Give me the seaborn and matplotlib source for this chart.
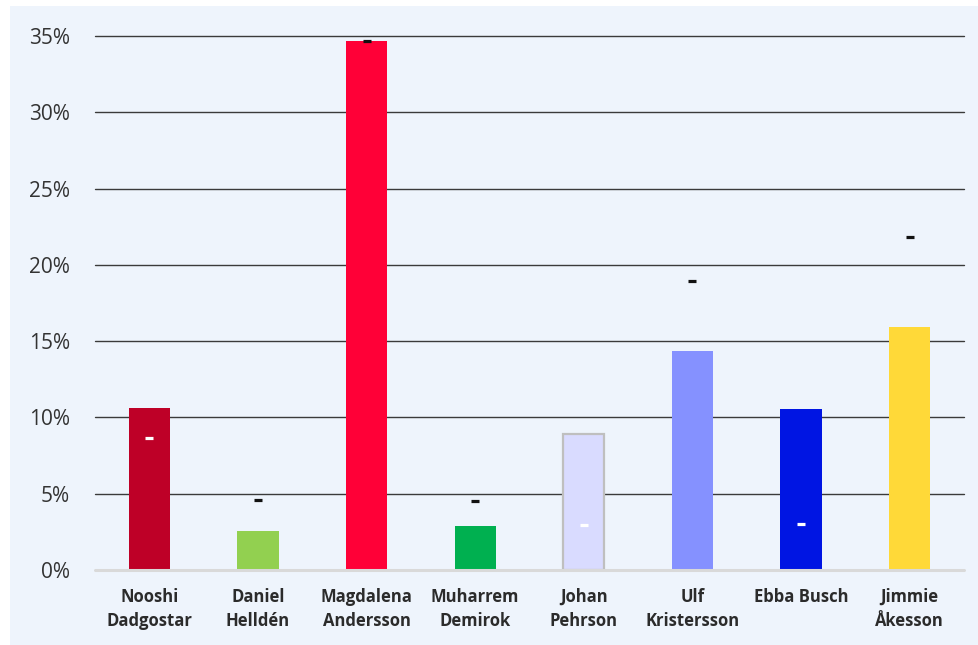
import numpy as np
import pandas as pd
import matplotlib
matplotlib.use("Agg")
import matplotlib.pyplot as plt
from matplotlib.patches import Rectangle
import seaborn as sns

# Data
names = ["Nooshi\nDadgostar", "Daniel\nHelldén", "Magdalena\nAndersson", "Muharrem\nDemirok",
         "Johan\nPehrson", "Ulf\nKristersson", "Ebba Busch", "Jimmie\nÅkesson"]
values = [10.6, 2.55, 34.65, 2.9, 8.9, 14.35, 10.55, 15.9]
markers = [8.65, 4.6, 34.7, 4.5, 2.95, 18.95, 3.0, 21.8]
colors = ["#BE0027", "#92D050", "#FF0037", "#00B050", "#D9DBFF", "#8591FF", "#0015E3", "#FFD938"]
yticks = [0, 5, 10, 15, 20, 25, 30, 35]

df = pd.DataFrame({"name": names, "value": values, "marker": markers})

sns.set_style("white")
plt.rcParams["font.family"] = ["Open Sans", "DejaVu Sans"]

fig = plt.figure(figsize=(9.79, 6.45), dpi=100)
fig.patch.set_facecolor("white")
# light blue panel behind the chart
fig.patches.append(Rectangle((10 / 979, 0), 1, 1 - 6 / 645, transform=fig.transFigure,
                             facecolor="#EEF4FC", edgecolor="none", zorder=-5))

ax = fig.add_axes([95 / 979, 1 - 570 / 645, 869 / 979, 534 / 645])
ax.set_facecolor("none")
ax.set_zorder(2)

sns.barplot(data=df, x="name", y="value", hue="name", palette=colors, legend=False,
            width=0.38, saturation=1, ax=ax, zorder=3, linewidth=0)
# Johan Pehrson bar has a grey outline
for i, p in enumerate(ax.patches):
    if i == 4:
        p.set_edgecolor("#BFBFBF")
        p.set_linewidth(1.6)

# small dash markers: black above bar, white inside bar
x = np.arange(len(names))
mk = np.array(markers)
above = mk > np.array(values)
ax.plot(x[above], mk[above], ls="none", marker="_", ms=5.2, mew=2.3, color="#111111", zorder=5)
ax.plot(x[~above], mk[~above], ls="none", marker="_", ms=5.2, mew=2.3, color="white", zorder=5)

ax.set_xlim(-0.5, 7.5)
ax.set_ylim(0, 35)
for t in yticks[1:]:
    ax.axhline(t, color="#3a3a3a", lw=1.0, zorder=1, clip_on=False)
ax.axhline(0, color="#D9D9D9", lw=2.2, zorder=4, clip_on=False)

ax.set_yticks(yticks)
ax.set_yticklabels([f"{t}%" for t in yticks], fontsize=15, color="#333333")
ax.tick_params(axis="y", length=0, pad=18)
ax.tick_params(axis="x", length=0, pad=13)
for lbl in ax.get_xticklabels():
    lbl.set_fontsize(12)
    lbl.set_fontweight("bold")
    lbl.set_color("#2b2b2b")
    lbl.set_linespacing(1.45)
    lbl.set_verticalalignment("top")

ax.set_xlabel("")
ax.set_ylabel("")
for s in ax.spines.values():
    s.set_visible(False)

fig.savefig("out.png", dpi=100)
